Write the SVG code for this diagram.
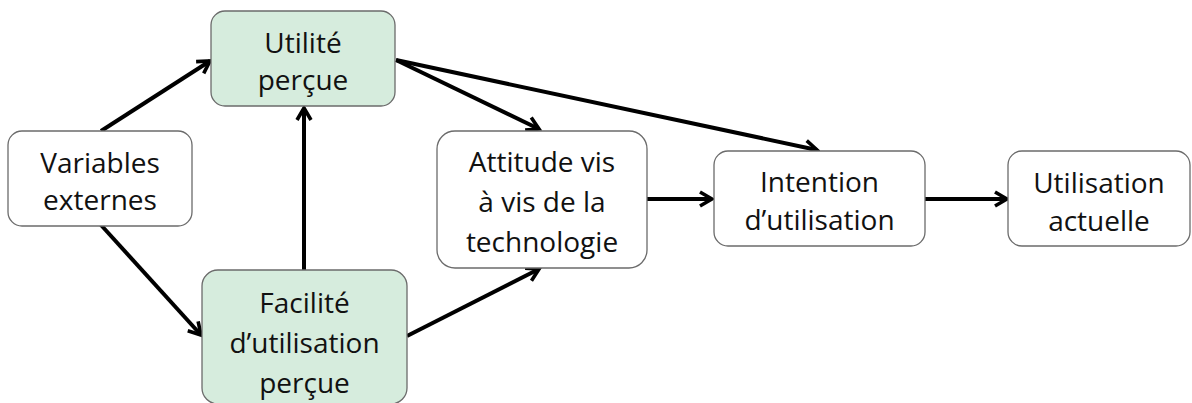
<svg xmlns="http://www.w3.org/2000/svg" width="1192" height="403" viewBox="0 0 1192 403">
<style>
.box{fill:#ffffff;stroke:#6b6b6b;stroke-width:1.3}
.green{fill:#d6ecdd}
.t{font-family:"Open Sans","Liberation Sans",sans-serif;font-size:28px;fill:#111111;text-anchor:middle}
.c{stroke:#000;stroke-width:4;fill:none;marker-end:url(#ah)}
</style>
<defs>
<marker id="ah" viewBox="0 0 18 18" refX="15" refY="9" markerWidth="18" markerHeight="18" markerUnits="userSpaceOnUse" orient="auto">
<path d="M3,2 L15,9 L3,16" fill="none" stroke="#000" stroke-width="3.6" stroke-linejoin="miter"/>
</marker>
</defs>
<g id="connectors">
<line class="c" x1="101" y1="131" x2="210" y2="61"/>
<line class="c" x1="101" y1="225" x2="201" y2="335"/>
<line class="c" x1="304" y1="270" x2="304" y2="108"/>
<line class="c" x1="396" y1="60" x2="539" y2="129"/>
<line class="c" x1="396" y1="60" x2="817" y2="150"/>
<line class="c" x1="407" y1="336" x2="539" y2="269"/>
<line class="c" x1="647" y1="199" x2="712" y2="199"/>
<line class="c" x1="925" y1="199" x2="1007" y2="199"/>
</g>
<g id="variables">
<rect class="box" x="8" y="131" width="184" height="95" rx="14"/>
<text class="t" x="100" y="173">Variables</text>
<text class="t" x="100" y="210">externes</text>
</g>
<g id="utilite">
<rect class="box green" x="211" y="11" width="184" height="95" rx="14"/>
<text class="t" x="303" y="53">Utilité</text>
<text class="t" x="303" y="90">perçue</text>
</g>
<g id="facilite">
<rect class="box green" x="202" y="270" width="205" height="134" rx="16"/>
<text class="t" x="304.5" y="313">Facilité</text>
<text class="t" x="304.5" y="353">d’utilisation</text>
<text class="t" x="304.5" y="393">perçue</text>
</g>
<g id="attitude">
<rect class="box" x="437" y="131" width="210" height="137" rx="18"/>
<text class="t" x="542" y="172">Attitude vis</text>
<text class="t" x="542" y="212">à vis de la</text>
<text class="t" x="542" y="252">technologie</text>
</g>
<g id="intention">
<rect class="box" x="714" y="151" width="211" height="95" rx="14"/>
<text class="t" x="819.5" y="192">Intention</text>
<text class="t" x="819.5" y="230">d’utilisation</text>
</g>
<g id="utilisation">
<rect class="box" x="1008" y="151" width="182" height="95" rx="14"/>
<text class="t" x="1099" y="193">Utilisation</text>
<text class="t" x="1099" y="231">actuelle</text>
</g>
</svg>
